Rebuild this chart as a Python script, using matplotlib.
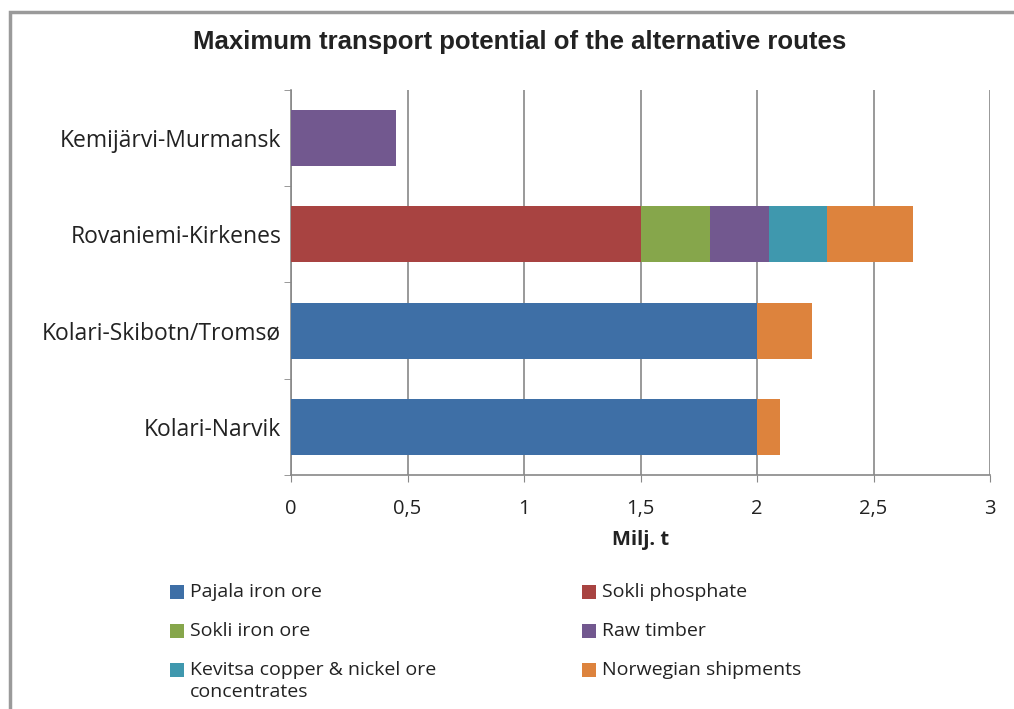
import matplotlib
matplotlib.use("Agg")
import matplotlib.pyplot as plt
from matplotlib.patches import Rectangle
import numpy as np

routes = ["Kolari-Narvik", "Kolari-Skibotn/Tromsø", "Rovaniemi-Kirkenes", "Kemijärvi-Murmansk"]
series_names = ["Pajala iron ore", "Sokli phosphate", "Sokli iron ore", "Raw timber",
                "Kevitsa copper & nickel ore\nconcentrates", "Norwegian shipments"]
pajala = [2.0, 2.0, 0.0, 0.0]
sokli_phosphate = [0.0, 0.0, 1.5, 0.0]
sokli_iron = [0.0, 0.0, 0.3, 0.0]
raw_timber = [0.0, 0.0, 0.25, 0.45]
kevitsa = [0.0, 0.0, 0.25, 0.0]
norwegian = [0.1, 0.235, 0.37, 0.0]
colors = ["#3e6fa6", "#a84341", "#86a64b", "#72588f", "#3f98ae", "#dd833d"]
xticks = [0, 0.5, 1, 1.5, 2, 2.5, 3]
xticklabels = ["0", "0,5", "1", "1,5", "2", "2,5", "3"]

fig = plt.figure(figsize=(10.14, 7.09), dpi=100)
W, H = 1014, 709
ax = fig.add_axes([291 / W, 1 - 475 / H, (990 - 291) / W, (475 - 90) / H])

font = "Open Sans"
series = [pajala, sokli_phosphate, sokli_iron, raw_timber, kevitsa, norwegian]
y = np.arange(len(routes))
left = np.zeros(len(routes))
for vals, c in zip(series, colors):
    v = np.array(vals)
    ax.barh(y, v, left=left, height=0.58, color=c, edgecolor="none", zorder=3)
    left += v

ax.set_xlim(0, 3)
ax.set_ylim(-0.5, 3.5)
ax.set_xticks(xticks)
ax.set_xticklabels(xticklabels, fontsize=14.5, family=font, color="#222222")
ax.set_yticks(y)
ax.set_yticklabels(routes, fontsize=16.5, family=font, color="#222222")
ax.set_yticks(np.arange(-0.5, 4, 1), minor=True)
ax.tick_params(axis="y", which="major", length=0, pad=7)
ax.tick_params(axis="y", which="minor", length=5, color="#888888", direction="out")
ax.tick_params(axis="x", length=5, color="#888888", pad=12, direction="out")
ax.grid(axis="x", color="#888888", linewidth=1.2, zorder=0)
for s in ["top", "right"]:
    ax.spines[s].set_visible(False)
for s in ["left", "bottom"]:
    ax.spines[s].set_color("#888888")
    ax.spines[s].set_linewidth(1.2)
ax.set_xlabel("Milj. t", fontsize=14.5, fontweight="bold", family=font, labelpad=8,
              color="#222222")

fig.text(520 / W, 1 - 42 / H, "Maximum transport potential of the alternative routes",
         ha="center", va="center", fontsize=18.5, fontweight="bold", family="Liberation Sans",
         color="#222222")

# manual legend: 2 columns, marker aligned with first text line
col_x = [170, 582]
row_y = [592, 631, 670]
sq = 14
for i, (name, c) in enumerate(zip(series_names, colors)):
    col = i % 2
    row = i // 2
    mx, my = col_x[col], row_y[row]
    fig.add_artist(Rectangle((mx / W, 1 - (my + sq / 2) / H), sq / W, sq / H,
                             transform=fig.transFigure, facecolor=c, edgecolor="none"))
    lines = name.split("\n")
    for k, line in enumerate(lines):
        fig.text((mx + sq + 6) / W, 1 - (my + k * 22) / H, line, ha="left", va="center",
                 fontsize=14, family=font, color="#222222")

# gray border frame
fig.add_artist(Rectangle((10 / W, -0.1), 1.2, 1 - 12 / H + 0.1, transform=fig.transFigure,
                         fill=False, edgecolor="#9a9a9a", linewidth=2.5))

fig.savefig("out.png", dpi=100)
